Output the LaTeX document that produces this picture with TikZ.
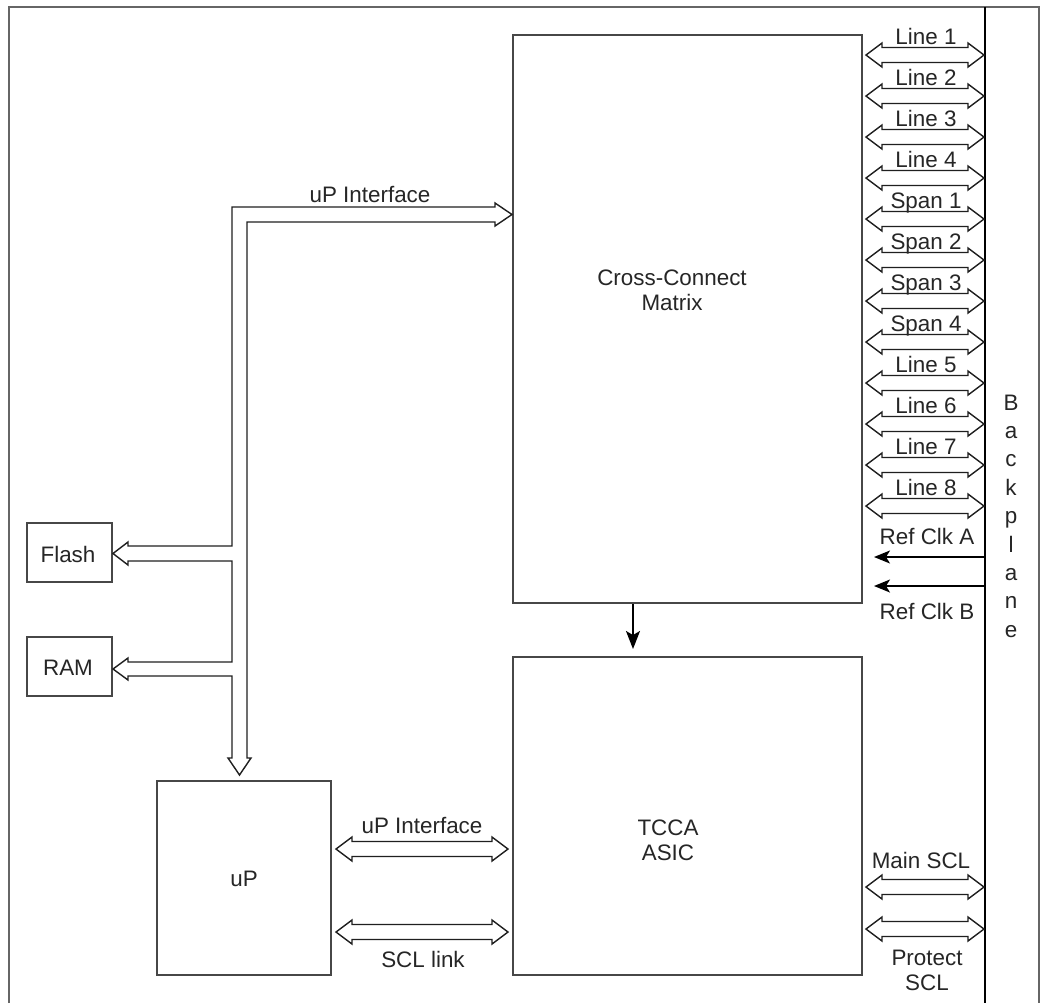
\documentclass[tikz,border=0pt]{standalone}
\usepackage{fontspec}
\setmainfont{Liberation Sans}
\usetikzlibrary{arrows.meta}
\newcommand\hdarrow[3]{\draw[hollow] (#1,#3) -- ({#1+16},{#3-12}) -- ({#1+16},{#3-7.5}) -- ({#2-16},{#3-7.5}) -- ({#2-16},{#3-12}) -- (#2,#3) -- ({#2-16},{#3+12}) -- ({#2-16},{#3+7.5}) -- ({#1+16},{#3+7.5}) -- ({#1+16},{#3+12}) -- cycle;}
\begin{document}
\begin{tikzpicture}[x=0.5pt,y=-0.5pt,
  box/.style={draw=black!72,line width=1pt,inner sep=0pt},
  lbl/.style={text=black!85,inner sep=0pt,font=\fontsize{11.2pt}{12.5pt}\selectfont,align=center},
  hollow/.style={draw=black!88,line width=0.7pt,line join=miter},
  frame/.style={draw=black!60,line width=1.1pt},
  clk/.style={draw=black,line width=0.75pt,-{Stealth[length=8pt,width=6.5pt,inset=2pt]}}]
\useasboundingbox (0,0) rectangle (1050,1003);
\fill[white] (0,0) rectangle (1050,1003);
% outer frame and backplane divider
\draw[frame] (9,1003) -- (9,7) -- (1039,7) -- (1039,1003);
\draw[black,line width=0.8pt] (985,7) -- (985,1003);
% boxes
\node[box,minimum width=174.5pt,minimum height=284pt] (ccm) at (687.5,319) {};
\node[box,minimum width=174.5pt,minimum height=159pt] (tcca) at (687.5,816) {};
\node[box,minimum width=87pt,minimum height=97pt] (up) at (244,878) {};
\node[box,minimum width=42.5pt,minimum height=29.5pt] (flash) at (69.5,552.5) {};
\node[box,minimum width=42.5pt,minimum height=29.5pt] (ram) at (69.5,666.5) {};
% box texts
\node[lbl] (ccmtext) at (672,290) {Cross-Connect\\Matrix};
\node[lbl] (tccatext) at (668,840) {TCCA\\ASIC};
\node[lbl,anchor=base] (uptext) at (244,886) {uP};
\node[lbl,anchor=base] (flashtext) at (68,562) {Flash};
\node[lbl,anchor=base] (ramtext) at (68,675) {RAM};
% uP bus
\draw[hollow] (232,546) -- (232,207) -- (495,207) -- (495,203) -- (512,214.5) -- (495,226) -- (495,222)
  -- (247,222) -- (247,758) -- (251,758) -- (239.5,775) -- (228,758) -- (232,758)
  -- (232,676) -- (128,676) -- (128,680) -- (113,669) -- (128,658) -- (128,662) -- (232,662)
  -- (232,561) -- (128,561) -- (128,565) -- (113,553.5) -- (128,542) -- (128,546) -- cycle;
\node[lbl,anchor=base] (busl) at (370,202) {uP Interface};
% right side line/span arrows
\foreach \t [count=\i from 0] in {Line 1,Line 2,Line 3,Line 4,Span 1,Span 2,Span 3,Span 4,Line 5,Line 6,Line 7,Line 8} {
  \pgfmathsetmacro\yy{55+41*\i}
  \hdarrow{866}{984}{\yy}
  \node[lbl,anchor=base] (lab\i) at (926,{\yy-11}) {\t};
}
% reference clocks
\coordinate (rcaS) at (984,557); \coordinate (rcaE) at (874,557);
\coordinate (rcbS) at (984,586); \coordinate (rcbE) at (874,586);
\draw[clk] (rcaS) -- (rcaE);
\draw[clk] (rcbS) -- (rcbE);
\node[lbl,anchor=base] (rcal) at (927,544) {Ref Clk A};
\node[lbl,anchor=base] (rcbl) at (927,619) {Ref Clk B};
% CCM to TCCA
\draw[clk,-{Stealth[length=9pt,width=7pt,inset=2pt]}] ([xshift=-27.25pt]ccm.south) -- ([xshift=-27.25pt,yshift=3.5pt]tcca.north);
% uP to TCCA
\hdarrow{336}{508}{849}
\node[lbl,anchor=base] (upif) at (422,833) {uP Interface};
\hdarrow{336}{508}{932}
\node[lbl,anchor=base] (scll) at (423,967) {SCL link};
% SCL to backplane
\hdarrow{866}{984}{887}
\node[lbl,anchor=base] (mscl) at (921,868) {Main SCL};
\hdarrow{866}{984}{929}
\node[lbl] (pscl) at (927,970) {Protect\\SCL};
% Backplane label
\foreach \c [count=\i from 0] in {B,a,c,k,p,l,a,n,e}
  \node[lbl,anchor=base] (bp\i) at (1011,{410+28.4*\i}) {\c};
\end{tikzpicture}
\end{document}
